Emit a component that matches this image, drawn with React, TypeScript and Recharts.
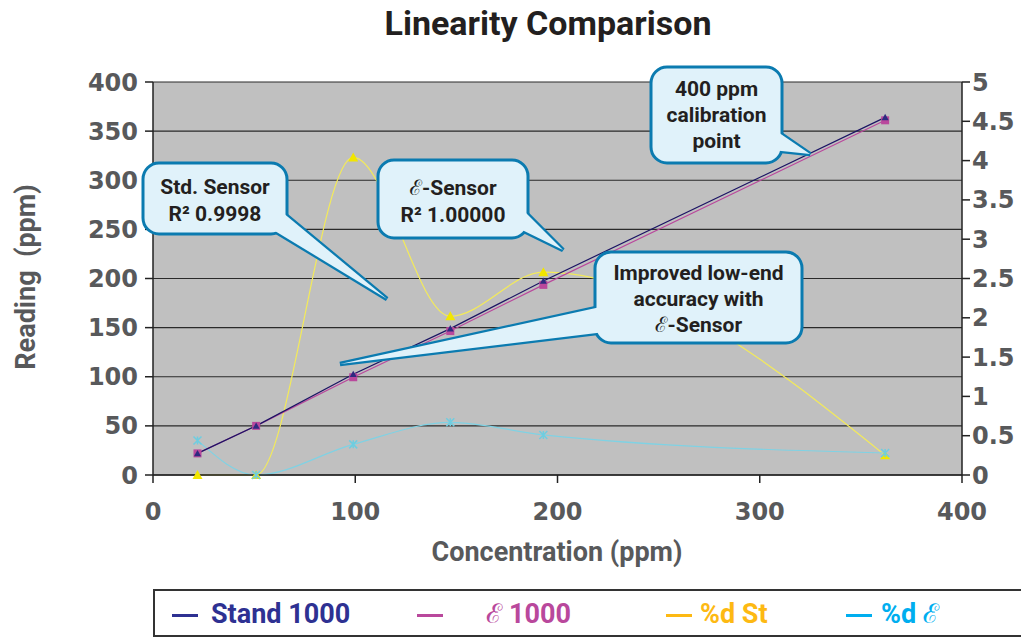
import { LineChart, Line, XAxis, YAxis, CartesianGrid } from 'recharts';

// values
const concentration = [22, 51, 99, 147, 193, 362];
const stand1000 = [22, 50, 102.5, 149, 197.5, 364];
const eps1000 = [22, 50, 99.5, 146.5, 193.5, 361];
const pctDevStd = [0, 0, 4.04, 2.02, 2.58, 0.25];
const pctDevEps = [0.44, 0, 0.39, 0.67, 0.51, 0.28];

const xTicks = [0, 100, 200, 300, 400];
const leftTicks = [0, 50, 100, 150, 200, 250, 300, 350, 400];
const rightTicks = [0, 0.5, 1, 1.5, 2, 2.5, 3, 3.5, 4, 4.5, 5];

const legendNames = ['Stand 1000', 'ℰ 1000', '%d St', '%d ℰ'];
const legendColors = ['#2e3192', '#b9489c', '#fdb913', '#00aeef'];
const legendDashX = [172, 417, 666, 846];
const legendTextX = [211, 486, 700, 881];

const data = concentration.map((c, i) => ({
  conc: c,
  stand: stand1000[i],
  eps: eps1000[i],
  dSt: pctDevStd[i],
  dE: pctDevEps[i],
}));

const W = 1021;
const H = 590;

const tickStyle = {
  fontFamily: 'DejaVu Sans',
  fontWeight: 700,
  fontSize: 24,
  fill: '#58595b',
};

const labelFont = 'Roboto, "Noto Sans", sans-serif';

// markers
const triangle = (color: string, s: number) => (props: any) => {
  const { cx, cy, index } = props;
  if (cx == null || cy == null) return <g key={index} />;
  return (
    <path
      key={index}
      d={`M${cx},${cy - s} L${cx + s},${cy + s * 0.8} L${cx - s},${cy + s * 0.8} Z`}
      fill={color}
    />
  );
};

const square = (color: string, s: number) => (props: any) => {
  const { cx, cy, index } = props;
  if (cx == null || cy == null) return <g key={index} />;
  return <rect key={index} x={cx - s} y={cy - s} width={s * 2} height={s * 2} fill={color} />;
};

const cross = (color: string, s: number) => (props: any) => {
  const { cx, cy, index } = props;
  if (cx == null || cy == null) return <g key={index} />;
  return (
    <path
      key={index}
      d={`M${cx - s},${cy - s} L${cx + s},${cy + s} M${cx - s},${cy + s} L${cx + s},${cy - s} M${cx},${cy - s} L${cx},${cy + s}`}
      stroke={color}
      strokeWidth={1.5}
    />
  );
};

interface CalloutProps {
  x: number;
  y: number;
  w: number;
  h: number;
  tail: number[][];
  lines: string[];
  top: number;
  step: number;
}

function Callout({ x, y, w, h, tail, lines, top, step }: CalloutProps) {
  const pts = tail.map((p) => p.join(',')).join(' ');
  const fill = '#e0f2fa';
  const stroke = '#0b7bb0';
  return (
    <g>
      <polygon points={pts} fill={fill} stroke={stroke} strokeWidth={4.5} strokeLinejoin="miter" />
      <rect x={x} y={y} width={w} height={h} rx={16} ry={16} fill={fill} stroke={stroke} strokeWidth={3} />
      <polygon points={pts} fill={fill} />
      {lines.map((t, i) => (
        <text
          key={i}
          x={x + w / 2}
          y={top + i * step}
          textAnchor="middle"
          fontFamily={labelFont}
          fontWeight={700}
          fontSize={21}
          fill="#231f20"
        >
          {t}
        </text>
      ))}
    </g>
  );
}

export default function App() {
  return (
    <div
      style={{
        position: 'absolute',
        left: 0,
        top: 0,
        width: W,
        height: 639,
        overflow: 'hidden',
        background: '#fff',
      }}
    >
      <div
        style={{
          position: 'absolute',
          top: 3,
          left: 548,
          transform: 'translateX(-50%)',
          whiteSpace: 'nowrap',
          fontFamily: labelFont,
          fontWeight: 700,
          fontSize: 34,
          color: '#231f20',
        }}
      >
        Linearity Comparison
      </div>

      <div style={{ position: 'absolute', left: 0, top: 0 }}>
        <LineChart width={W} height={H} data={data} margin={{ top: 82, right: 9, bottom: 75, left: 83 }}>
          <CartesianGrid
            yAxisId="left"
            vertical={false}
            stroke="#2a2a2a"
            strokeWidth={1.2}
            fill="#c0c0c0"
            fillOpacity={1}
          />
          <XAxis
            dataKey="conc"
            type="number"
            domain={[0, 400]}
            ticks={xTicks}
            height={40}
            tickSize={8}
            tickMargin={20}
            tick={tickStyle}
            stroke="#222"
            strokeWidth={1.5}
          />
          <YAxis
            yAxisId="left"
            domain={[0, 400]}
            ticks={leftTicks}
            width={70}
            tickSize={8}
            tickMargin={7}
            tick={tickStyle}
            stroke="#222"
            strokeWidth={1.5}
            interval={0}
          />
          <YAxis
            yAxisId="right"
            orientation="right"
            domain={[0, 5]}
            ticks={rightTicks}
            width={50}
            tickSize={8}
            tickMargin={2}
            tick={tickStyle}
            stroke="#222"
            strokeWidth={1.5}
            interval={0}
            tickFormatter={(v: number) => String(v)}
          />
          <Line
            yAxisId="right"
            dataKey="dSt"
            type="monotone"
            stroke="#f3ea5a"
            strokeWidth={1.2}
            dot={triangle('#f2e600', 5)}
            isAnimationActive={false}
          />
          <Line
            yAxisId="right"
            dataKey="dE"
            type="monotone"
            stroke="#7fd2e4"
            strokeWidth={1.2}
            dot={cross('#6fcde0', 4)}
            isAnimationActive={false}
          />
          <Line
            yAxisId="left"
            dataKey="eps"
            type="linear"
            stroke="#b9489c"
            strokeWidth={1.2}
            dot={square('#b9489c', 4)}
            isAnimationActive={false}
          />
          <Line
            yAxisId="left"
            dataKey="stand"
            type="linear"
            stroke="#1b1464"
            strokeWidth={1.2}
            dot={triangle('#2e2a80', 3.5)}
            isAnimationActive={false}
          />
        </LineChart>

        <svg width={W} height={H} style={{ position: 'absolute', left: 0, top: 0, pointerEvents: 'none' }}>
          <Callout
            x={143}
            y={163}
            w={144}
            h={71}
            tail={[[270, 228], [282, 212], [387, 299]]}
            lines={['Std. Sensor', 'R² 0.9998']}
            top={194}
            step={27}
          />
          <Callout
            x={378}
            y={160}
            w={150}
            h={78}
            tail={[[518, 205], [518, 228], [563, 250]]}
            lines={['ℰ-Sensor', 'R² 1.00000']}
            top={195}
            step={27}
          />
          <Callout
            x={651}
            y={67}
            w={131}
            h={96}
            tail={[[772, 128], [772, 150], [810, 154]]}
            lines={['400 ppm', 'calibration', 'point']}
            top={96}
            step={26}
          />
          <Callout
            x={595}
            y={252}
            w={207}
            h={91}
            tail={[[605, 306], [605, 332], [340, 364]]}
            lines={['Improved low-end', 'accuracy with', 'ℰ-Sensor']}
            top={280}
            step={26}
          />
        </svg>
      </div>

      <div
        style={{
          position: 'absolute',
          left: 26,
          top: 277,
          transform: 'translate(-50%, -50%) rotate(-90deg)',
          whiteSpace: 'pre',
          fontFamily: labelFont,
          fontWeight: 700,
          fontSize: 27,
          color: '#58595b',
        }}
      >
        {'Reading  (ppm)'}
      </div>
      <div
        style={{
          position: 'absolute',
          left: 557,
          top: 552,
          transform: 'translate(-50%, -50%)',
          whiteSpace: 'nowrap',
          fontFamily: labelFont,
          fontWeight: 700,
          fontSize: 27,
          color: '#58595b',
        }}
      >
        Concentration (ppm)
      </div>

      <div
        style={{
          position: 'absolute',
          left: 153,
          top: 589,
          width: 900,
          height: 48,
          border: '2px solid #333',
          boxSizing: 'border-box',
        }}
      />
      {legendNames.map((name, i) => (
        <div key={name}>
          <div
            style={{
              position: 'absolute',
              left: legendDashX[i],
              top: 614,
              width: 26,
              height: 3,
              background: legendColors[i],
            }}
          />
          <div
            style={{
              position: 'absolute',
              left: legendTextX[i],
              top: 597,
              fontFamily: labelFont,
              fontWeight: 700,
              fontSize: 27,
              lineHeight: '34px',
              color: legendColors[i],
              whiteSpace: 'nowrap',
            }}
          >
            {name}
          </div>
        </div>
      ))}
    </div>
  );
}
